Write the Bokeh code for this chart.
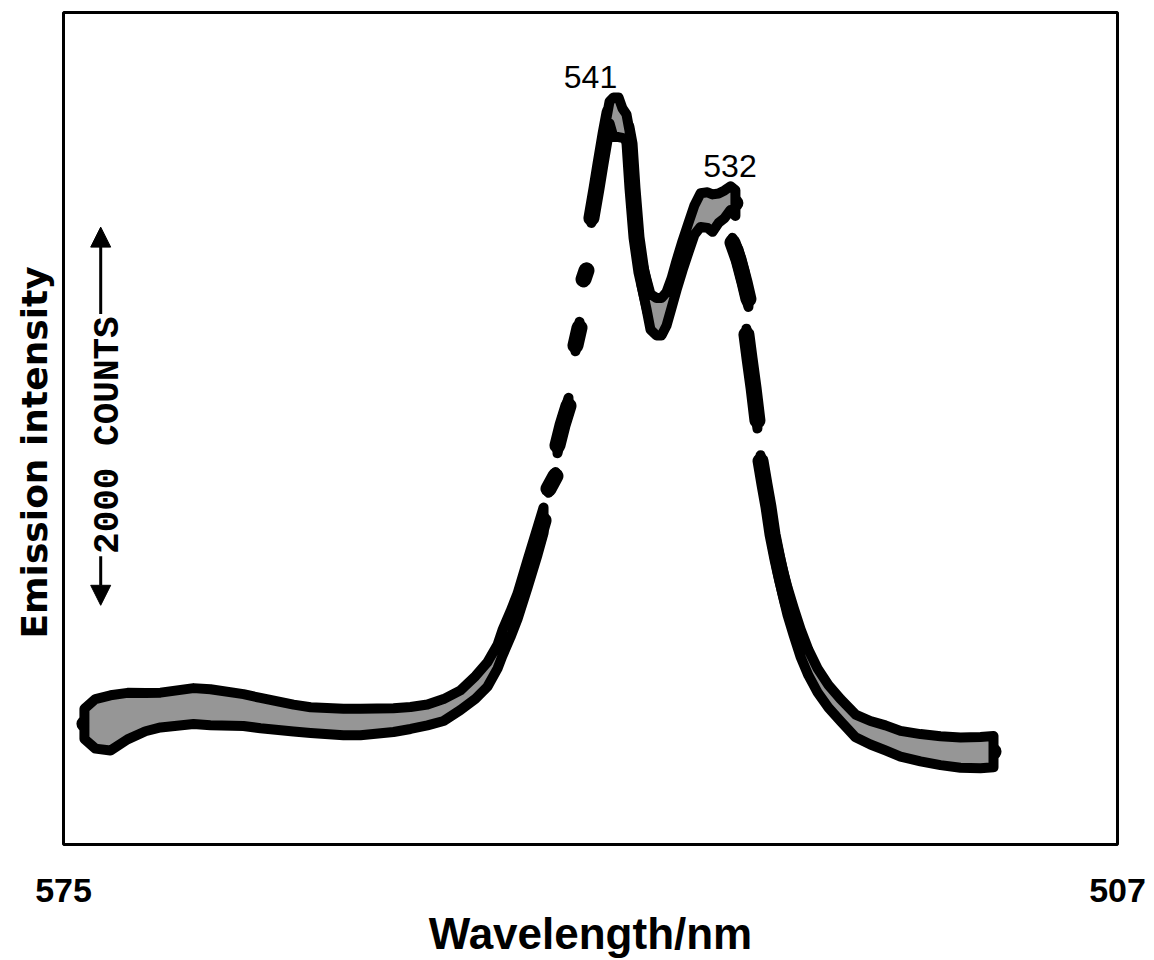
import math

from bokeh.core.properties import value
from bokeh.embed import file_html
from bokeh.models import Arrow, FixedTicker, NormalHead, Range1d, Title
from bokeh.plotting import figure
from bokeh.resources import INLINE

nan = float("nan")

# Recorded emission trace.  `counts` is the mid-line of the broad recorder
# trace, `spread` half of its vertical extent; NaN marks where the pen lifted.
wavelength = [
    573.65, 572.94, 571.97, 570.87, 569.71, 568.74, 566.61, 565.52, 563.39, 562.29,
    560.16, 559.06, 556.94, 555.84, 553.71, 552.61, 551.52, 550.48, 549.39, 548.42,
    547.65, 547.00, 546.68, 546.16, 545.71, 545.06, 544.42, 544.03,
    nan,
    543.71, 543.26,
    nan,
    543.13, 542.81, 542.42,
    nan,
    541.97, 541.71,
    nan,
    541.45, 541.26,
    nan,
    540.94, 540.61, 540.35, 540.03, 539.77, 539.52, 539.19, 538.94, 538.68, 538.48,
    538.29, 538.03, 537.71, 537.39, 537.13, 536.74, 536.42, 536.10, 535.77, 535.45,
    535.06, 534.68, 534.29, 533.90, 533.45, 533.13, 532.74, 532.35, 531.97, 531.65,
    nan,
    531.84, 531.45, 531.06, 530.81,
    nan,
    530.94, 530.74, 530.48, 530.23,
    nan,
    530.03, 529.77, 529.52, 529.26, 528.94, 528.61, 528.29, 527.90, 527.45, 526.94,
    526.35, 525.65, 524.87, 523.90, 522.94, 521.97, 521.00, 519.71, 518.42, 517.13,
    515.84, 515.00,
]
counts = [
    638, 638, 643, 679, 700, 711, 732, 726, 711, 695,
    669, 658, 648, 648, 658, 669, 685, 711, 763, 831,
    899, 993, 1066, 1165, 1259, 1432, 1604, 1714,
    nan,
    1881, 1949,
    nan,
    2111, 2216, 2320,
    nan,
    2639, 2733,
    nan,
    2989, 3036,
    nan,
    3313, 3470, 3601, 3757, 3872, 3846, 3846, 3815, 3794, 3705,
    3470, 3209, 3026, 2911, 2817, 2791, 2791, 2832, 2916, 3010,
    3115, 3209, 3303, 3355, 3355, 3339, 3365, 3386, 3418, 3392,
    nan,
    3183, 3094, 2973, 2885,
    nan,
    2697, 2571, 2414, 2242,
    nan,
    2028, 1902, 1787, 1641, 1510, 1390, 1286, 1181, 1066, 962,
    868, 784, 711, 627, 591, 564, 533, 512, 496, 486,
    486, 491,
]
spread = [
    80, 131, 146, 123, 101, 92, 95, 95, 84, 80,
    71, 68, 70, 70, 63, 58, 55, 58, 52, 60,
    65, 63, 68, 68, 68, 73, 73, 68,
    nan,
    21, 21,
    nan,
    42, 42, 42,
    nan,
    31, 31,
    nan,
    16, 16,
    nan,
    26, 52, 58, 58, 58, 105, 105, 78, 68, 68,
    68, 68, 68, 78, 94, 99, 99, 89, 78, 78,
    78, 78, 78, 89, 94, 99, 78, 73, 63, 68,
    nan,
    26, 52, 58, 42,
    nan,
    31, 52, 63, 42,
    nan,
    31, 63, 63, 63, 68, 68, 73, 73, 73, 68,
    63, 60, 58, 60, 62, 66, 68, 72, 76, 80,
    83, 83,
]

peak_wavelengths = [541, 532]
peak_labels = ["541", "532"]
x_ticks = [575, 507]
scale_bar_counts = 2000

TRACE_GREY = "#969696"

p = figure(
    width=1154,
    height=960,
    x_range=Range1d(575, 507),
    y_range=Range1d(0, 4400),
    output_backend="svg",
    toolbar_location=None,
    min_border_left=63,
    min_border_right=37,
    min_border_top=12,
    min_border_bottom=106,
)
p.background_fill_color = "white"
p.border_fill_color = "white"
p.outline_line_color = "black"
p.outline_line_width = 3
p.xgrid.visible = False
p.ygrid.visible = False

# x axis: only the two end wavelengths are labelled
xa = p.xaxis[0]
xa.ticker = FixedTicker(ticks=x_ticks)
xa.axis_line_color = None
xa.major_tick_line_color = None
xa.minor_tick_line_color = None
xa.major_tick_out = 0
xa.major_tick_in = 0
xa.major_label_standoff = 34
xa.major_label_text_font = "Liberation Sans"
xa.major_label_text_font_style = "bold"
xa.major_label_text_font_size = "34px"
xa.major_label_text_color = "black"
xa.axis_label = "Wavelength/nm"
xa.axis_label_text_font = "Liberation Sans"
xa.axis_label_text_font_style = "bold"
xa.axis_label_text_font_size = "44px"
xa.axis_label_text_color = "black"
xa.axis_label_standoff = 4

# no y ticks: intensity is given by the scale bar
p.yaxis.visible = False

# vertical title on the left, started a little above the frame bottom
p.add_layout(Title(
    text="Emission intensity", align="left", offset=206, standoff=18,
    vertical_align="bottom",
    text_font="DejaVu Sans", text_font_style="bold", text_font_size="36px",
    text_color="black",
), "left")

# split the trace at pen lifts and draw each piece as a filled band
segments, cur = [], []
for w, c, s in zip(wavelength, counts, spread):
    if math.isnan(w):
        if cur:
            segments.append(cur)
        cur = []
    else:
        cur.append((w, c, s))
if cur:
    segments.append(cur)

xs, ys = [], []
for seg in segments:
    w = [t[0] for t in seg]
    hi = [t[1] + t[2] for t in seg]
    lo = [t[1] - t[2] for t in seg]
    xs.append(w + w[::-1])
    ys.append(hi + lo[::-1])

# the pen's own width shows where the trace is steep
p.line(wavelength, counts, line_color="black", line_width=16,
       line_cap="round", line_join="round")
p.patches(xs, ys, fill_color=TRACE_GREY, line_color="black",
          line_width=10, line_join="round")

# peak labels sit just above the top of the trace near each peak
label_y = []
for pw in peak_wavelengths:
    tops = [c + s for w, c, s in zip(wavelength, counts, spread)
            if not math.isnan(w) and abs(w - pw) <= 1.6]
    label_y.append(max(tops))
p.text(x=peak_wavelengths, y=label_y, text=peak_labels,
       text_align="center", text_baseline="bottom", y_offset=-9,
       text_font=value("Liberation Sans"), text_font_size="32px",
       text_color="black")

# vertical scale bar: 2000 counts between the arrow tips
bar_x = 572.6
bar_base = 1265
bar_top = bar_base + scale_bar_counts
text_mid = bar_base + 900
text_half = 640
p.text(x=[572.1], y=[text_mid], text=[f"{scale_bar_counts} COUNTS"],
       angle=math.pi / 2, text_align="center", text_baseline="middle",
       text_font=value("Liberation Mono"), text_font_style="bold",
       text_font_size="36px", text_color="black")
for start, end in ((text_mid + text_half, bar_top), (text_mid - text_half, bar_base)):
    p.add_layout(Arrow(
        end=NormalHead(size=20, fill_color="black", line_color="black", line_width=1),
        x_start=bar_x, y_start=start, x_end=bar_x, y_end=end,
        line_color="black", line_width=3,
    ))

open("out.html", "w").write(file_html(p, INLINE))
